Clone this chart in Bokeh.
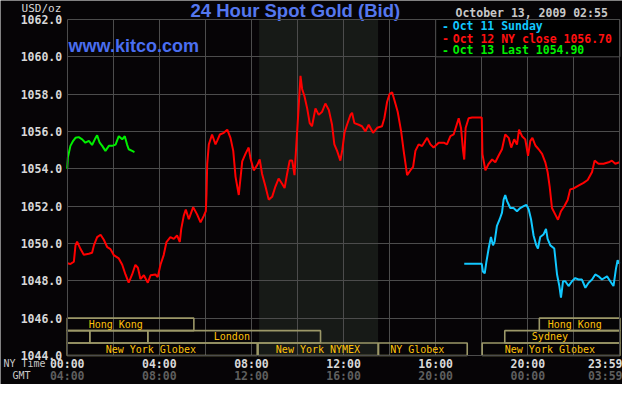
from bokeh.plotting import figure
from bokeh.models import Range1d, FixedTicker, LinearAxis, PrintfTickFormatter
from bokeh.core.properties import value
from bokeh.embed import file_html
from bokeh.resources import INLINE

# ---------------- data ----------------
# hours since 00:00 New York time, USD/oz
red_points = [  # Oct 12 NY close 1056.70
    (0.00, 1048.94), (0.14, 1048.90), (0.29, 1049.03), (0.36, 1049.90), (0.43, 1050.10),
    (0.58, 1049.70), (0.72, 1049.40), (0.94, 1049.45), (1.08, 1049.50), (1.16, 1049.90),
    (1.30, 1050.34), (1.45, 1050.47), (1.59, 1050.20), (1.74, 1049.80), (1.88, 1049.70),
    (2.02, 1049.38), (2.24, 1049.20), (2.39, 1048.86), (2.53, 1048.34), (2.67, 1047.90),
    (2.82, 1048.34), (2.96, 1048.86), (3.07, 1048.70), (3.18, 1048.10), (3.33, 1048.30),
    (3.50, 1047.90), (3.62, 1048.30), (3.83, 1048.34), (3.93, 1048.20), (4.05, 1048.86),
    (4.19, 1049.38), (4.31, 1050.08), (4.48, 1050.34), (4.63, 1050.25), (4.77, 1050.43),
    (4.89, 1050.08), (4.95, 1050.77), (5.06, 1051.48), (5.15, 1051.82), (5.28, 1051.30),
    (5.47, 1051.95), (5.64, 1051.56), (5.79, 1051.13), (5.93, 1051.48), (6.02, 1051.74),
    (6.05, 1052.70), (6.08, 1054.27), (6.15, 1055.31), (6.29, 1055.84), (6.44, 1055.31),
    (6.51, 1055.50), (6.63, 1055.84), (6.80, 1055.93), (6.95, 1056.10), (7.09, 1055.66),
    (7.21, 1054.96), (7.31, 1053.57), (7.45, 1052.60), (7.60, 1054.40), (7.74, 1054.80),
    (7.88, 1055.14), (7.96, 1054.55), (8.10, 1053.92), (8.25, 1054.20), (8.36, 1054.50),
    (8.46, 1053.74), (8.61, 1053.05), (8.75, 1052.35), (8.90, 1052.50), (9.04, 1053.05),
    (9.18, 1053.48), (9.33, 1053.20), (9.44, 1052.97), (9.55, 1053.74), (9.66, 1054.44),
    (9.77, 1054.44), (9.87, 1053.66), (9.95, 1055.31), (10.03, 1056.89), (10.13, 1058.98),
    (10.20, 1058.28), (10.30, 1057.90), (10.42, 1057.24), (10.53, 1056.45), (10.63, 1056.28),
    (10.78, 1057.24), (10.92, 1056.89), (11.07, 1057.06), (11.21, 1057.50), (11.36, 1057.15),
    (11.50, 1056.36), (11.60, 1055.31), (11.72, 1054.96), (11.86, 1054.44), (11.95, 1055.05),
    (12.04, 1055.93), (12.15, 1056.36), (12.30, 1056.89), (12.37, 1057.00), (12.47, 1056.45),
    (12.66, 1056.36), (12.80, 1056.28), (12.95, 1056.01), (13.09, 1056.36), (13.28, 1055.93),
    (13.46, 1056.20), (13.67, 1056.28), (13.77, 1056.71), (13.89, 1057.58), (14.00, 1058.02),
    (14.11, 1058.10), (14.21, 1057.67), (14.35, 1057.06), (14.50, 1056.01), (14.61, 1054.96),
    (14.76, 1053.66), (14.90, 1053.92), (15.02, 1054.10), (15.12, 1054.96), (15.26, 1055.31),
    (15.41, 1055.22), (15.63, 1055.66), (15.77, 1055.31), (15.91, 1055.14), (16.13, 1055.40),
    (16.35, 1055.40), (16.49, 1055.31), (16.64, 1055.75), (16.78, 1055.84), (17.00, 1056.71),
    (17.10, 1056.19), (17.19, 1054.96), (17.24, 1054.50), (17.30, 1056.19), (17.43, 1056.71),
    (17.58, 1056.75), (18.00, 1056.75), (18.03, 1054.79), (18.16, 1053.92), (18.30, 1054.27),
    (18.45, 1054.50), (18.59, 1054.35), (18.73, 1054.70), (18.88, 1055.05), (19.02, 1055.84),
    (19.17, 1055.66), (19.28, 1055.14), (19.41, 1055.58), (19.53, 1055.30), (19.62, 1056.10),
    (19.75, 1055.75), (19.89, 1055.58), (20.01, 1054.70), (20.11, 1055.50), (20.20, 1055.66),
    (20.33, 1055.25), (20.47, 1055.05), (20.62, 1054.80), (20.76, 1054.35), (20.86, 1053.83),
    (20.95, 1053.05), (21.05, 1051.90), (21.19, 1051.56), (21.31, 1051.27), (21.44, 1051.73),
    (21.58, 1051.98), (21.73, 1052.33), (21.84, 1052.90), (21.99, 1052.95), (22.20, 1053.10),
    (22.42, 1053.25), (22.60, 1053.40), (22.79, 1053.83), (22.90, 1054.44), (23.07, 1054.27),
    (23.29, 1054.27), (23.51, 1054.35), (23.65, 1054.44), (23.80, 1054.27), (23.98, 1054.35),
]

cyan_points = [  # Oct 11 Sunday
    (17.24, 1048.91), (18.00, 1048.91), (18.05, 1048.50), (18.13, 1048.40), (18.20, 1049.00),
    (18.30, 1049.73), (18.40, 1050.35), (18.49, 1049.90), (18.56, 1050.10), (18.66, 1050.95),
    (18.78, 1051.30), (18.88, 1051.65), (18.95, 1052.35), (19.02, 1052.60), (19.10, 1052.27),
    (19.24, 1051.90), (19.38, 1051.90), (19.53, 1051.73), (19.67, 1051.90), (19.82, 1052.00),
    (19.94, 1052.07), (20.04, 1051.82), (20.14, 1051.30), (20.25, 1050.43), (20.37, 1049.90),
    (20.44, 1049.73), (20.54, 1050.35), (20.69, 1050.50), (20.79, 1050.78), (20.86, 1050.25),
    (20.98, 1049.90), (21.15, 1049.73), (21.27, 1048.34), (21.37, 1047.72), (21.44, 1047.10),
    (21.53, 1047.98), (21.63, 1047.98), (21.77, 1047.72), (21.92, 1047.98), (22.06, 1048.15),
    (22.20, 1048.07), (22.35, 1048.07), (22.50, 1047.63), (22.64, 1047.90), (22.79, 1048.07),
    (22.93, 1048.34), (23.07, 1048.24), (23.22, 1048.07), (23.44, 1048.24), (23.58, 1047.98),
    (23.72, 1047.72), (23.83, 1048.67), (23.90, 1049.10), (23.98, 1048.93),
]

green_points = [  # Oct 13 Last 1054.90
    (0.00, 1054.00), (0.03, 1054.62), (0.14, 1055.23), (0.26, 1055.50), (0.36, 1055.66),
    (0.50, 1055.70), (0.65, 1055.58), (0.79, 1055.40), (0.94, 1055.50), (1.08, 1055.28),
    (1.20, 1055.58), (1.30, 1055.80), (1.41, 1055.40), (1.52, 1055.23), (1.66, 1054.96),
    (1.81, 1055.23), (1.95, 1055.23), (2.10, 1055.30), (2.24, 1055.75), (2.39, 1055.58),
    (2.50, 1055.75), (2.60, 1055.30), (2.67, 1055.05), (2.82, 1054.96), (2.92, 1054.90),
]

legend_texts = ["Oct 11 Sunday", "Oct 12 NY close 1056.70", "Oct 13 Last 1054.90"]
title_text = "24 Hour Spot Gold (Bid)"
date_text = "October 13, 2009 02:55"
unit_text = "USD/oz"
site_text = "www.kitco.com"

y_min, y_max = 1044, 1062
x_min, x_max = 0, 24
y_ticks = [1044, 1046, 1048, 1050, 1052, 1054, 1056, 1058, 1060, 1062]
grid_hours = [2, 4, 6, 8, 10, 12, 14, 16, 18, 20, 22]
label_hours = [0, 4, 8, 12, 16, 20, 23.45]
ny_labels = ["00:00", "04:00", "08:00", "12:00", "16:00", "20:00", "23:59"]
gmt_labels = ["04:00", "08:00", "12:00", "16:00", "20:00", "00:00", "03:59"]

nymex_start, nymex_end = 8.333, 13.5

session_names = ["Hong Kong", "", "", "London", "New York Globex", "New York NYMEX",
                 "NY Globex", "New York Globex", "Sydney", "Hong Kong"]
session_start = [0.0, 0.0, 0.98, 3.5, 0.0, 8.29, 13.52, 18.02, 19.0, 20.5]
session_end = [5.5, 0.98, 3.5, 11.0, 8.25, 13.5, 17.37, 24.0, 24.0, 24.0]
session_row = [0, 1, 1, 1, 2, 2, 2, 2, 1, 0]
session_label_at = [2.11, 0.49, 2.24, 7.15, 3.63, 10.89, 15.2, 20.96, 20.96, 22.04]

# ---------------- styles / layout ----------------
BG = "#060406"
GRID = "#4c4c4c"
SHADE = "#171a17"
BOX = "#9c9868"
BOX_TEXT = "#ffc20a"
RED = "#ff0000"
CYAN = "#12c8ff"
GREEN = "#00f000"
MONO = "DejaVu Sans Mono"
SANS = "Liberation Sans"
row_tops = [1046.0, 1045.33, 1044.67]
row_bottoms = [1045.33, 1044.67, 1044.0]

W, H = 622, 384
px_per_h = 23.03
left_px = 66.7                 # pixel of 00:00
top_px, bottom_px = 19, 355    # pixel of 1062 and 1044
px_per_usd = (bottom_px - top_px) / (y_max - y_min)
xr = Range1d(x_min - left_px / px_per_h, x_min + (W - left_px) / px_per_h)
yr = Range1d(y_min - (H - bottom_px) / px_per_usd, y_max + top_px / px_per_usd)

def hx(px):   # pixel column -> hours (for the texts that sit outside the plot box)
    return x_min + (px - left_px) / px_per_h

def uy(px):   # pixel row -> USD
    return y_max - (px - top_px) / px_per_usd

p = figure(width=W, height=H, x_range=xr, y_range=yr,
           output_backend="svg", toolbar_location=None,
           min_border_left=0, min_border_right=0, min_border_top=0, min_border_bottom=0,
           background_fill_color=BG, border_fill_color=BG, outline_line_color=None)

def plain(ax):
    ax.axis_line_color = GRID
    ax.axis_line_width = 1
    ax.major_tick_line_color = None
    ax.minor_tick_line_color = None
    ax.major_tick_out = 0
    ax.major_tick_in = 0

# left axis with tick labels, drawn at 00:00
ya = p.yaxis[0]
plain(ya)
ya.fixed_location = x_min
ya.bounds = (y_min, y_max)
ya.ticker = FixedTicker(ticks=y_ticks)
ya.formatter = PrintfTickFormatter(format="%.1f")
ya.major_label_standoff = 5
ya.major_label_text_font = MONO
ya.major_label_text_font_style = "bold"
ya.major_label_text_font_size = "11.5px"
ya.major_label_text_color = "#d8d8d8"

def time_axis(ax, labels, color, standoff, line):
    plain(ax)
    if not line:
        ax.axis_line_color = None
    ax.fixed_location = y_min
    ax.bounds = (x_min, x_max)
    ax.ticker = FixedTicker(ticks=label_hours)
    ax.major_label_overrides = {h: t for h, t in zip(label_hours, labels)}
    ax.major_label_standoff = standoff
    ax.major_label_text_font = MONO
    ax.major_label_text_font_style = "bold"
    ax.major_label_text_font_size = "11.5px"
    ax.major_label_text_color = color

time_axis(p.xaxis[0], ny_labels, "#d8d8d8", 1, True)
gmt_axis = LinearAxis()
time_axis(gmt_axis, gmt_labels, "#5e5e5e", 13, False)
p.add_layout(gmt_axis, "below")

# frame lines on the other two sides
top_axis = LinearAxis(fixed_location=y_max, bounds=(x_min, x_max), ticker=FixedTicker(ticks=[]))
plain(top_axis)
p.add_layout(top_axis, "above")
right_axis = LinearAxis(fixed_location=x_max, bounds=(y_min, y_max), ticker=FixedTicker(ticks=[]))
plain(right_axis)
p.add_layout(right_axis, "right")

# unit label above the price scale
unit_at = -1.12
unit_axis = LinearAxis(fixed_location=y_max, ticker=FixedTicker(ticks=[unit_at]),
                       major_label_overrides={unit_at: unit_text})
plain(unit_axis)
unit_axis.axis_line_color = None
unit_axis.major_label_standoff = 5
unit_axis.major_label_text_font = MONO
unit_axis.major_label_text_font_size = "11px"
unit_axis.major_label_text_color = "#d8d8d8"
p.add_layout(unit_axis, "above")

p.xgrid.ticker = FixedTicker(ticks=grid_hours)
p.ygrid.ticker = FixedTicker(ticks=y_ticks[1:-1])
p.xgrid.cross_bounds = (y_min, y_max)
p.ygrid.cross_bounds = (x_min, x_max)
p.xgrid.grid_line_color = GRID
p.ygrid.grid_line_color = GRID

# NYMEX shading (behind grid)
p.quad(left=[nymex_start], right=[nymex_end], bottom=[y_min], top=[y_max],
       fill_color=SHADE, line_color=None, level="image")

# legend box
p.quad(left=[16], right=[x_max], bottom=[1060], top=[y_max], fill_color="#000000",
       line_color=GRID, line_width=1)
legend_colors = [CYAN, "#ff1010", GREEN]
legend_y = [1061.63, 1060.98, 1060.34]
p.text(x=[16.43] * 3, y=legend_y, text=["-"] * 3, text_color=legend_colors,
       text_font=value(MONO), text_font_style="bold", text_font_size="11.5px",
       text_align="center", text_baseline="middle")
p.text(x=[16.74] * 3, y=legend_y, text=legend_texts, text_color=legend_colors,
       text_font=value(MONO), text_font_style="bold", text_font_size="11.5px",
       text_align="left", text_baseline="middle")

# session boxes
p.quad(left=session_start, right=session_end,
       bottom=[row_bottoms[r] for r in session_row], top=[row_tops[r] for r in session_row],
       fill_color=None, line_color=BOX, line_width=1.6)
p.text(x=session_label_at, y=[(row_tops[r] + row_bottoms[r]) / 2 for r in session_row],
       text=session_names, text_color=BOX_TEXT, text_font=value(MONO),
       text_font_size="10px", text_align="center", text_baseline="middle")

# price lines
for pts, col in [(red_points, RED), (cyan_points, CYAN), (green_points, GREEN)]:
    p.line([t for t, _ in pts], [v for _, v in pts], line_color=col, line_width=2)

# texts
def txt(x, y, s, font, size, color, style="normal"):
    p.text(x=[x], y=[y], text=[s], text_font=value(font), text_font_size=size,
           text_color=color, text_align="left", text_baseline="middle", text_font_style=style)

txt(0.06, 1060.6, site_text, SANS, "18px", "#4a6ef0", style="bold")
txt(hx(190), uy(10), title_text, SANS, "18.5px", "#5577ee", style="bold")
txt(hx(455), uy(12.5), date_text, MONO, "11.5px", "#c8c8c8", style="bold")
txt(hx(3), uy(363), "NY Time", MONO, "10px", "#c8c8c8")
txt(hx(12), uy(375), "GMT", MONO, "10px", "#c8c8c8")

open("out.html", "w").write(file_html(p, INLINE))
